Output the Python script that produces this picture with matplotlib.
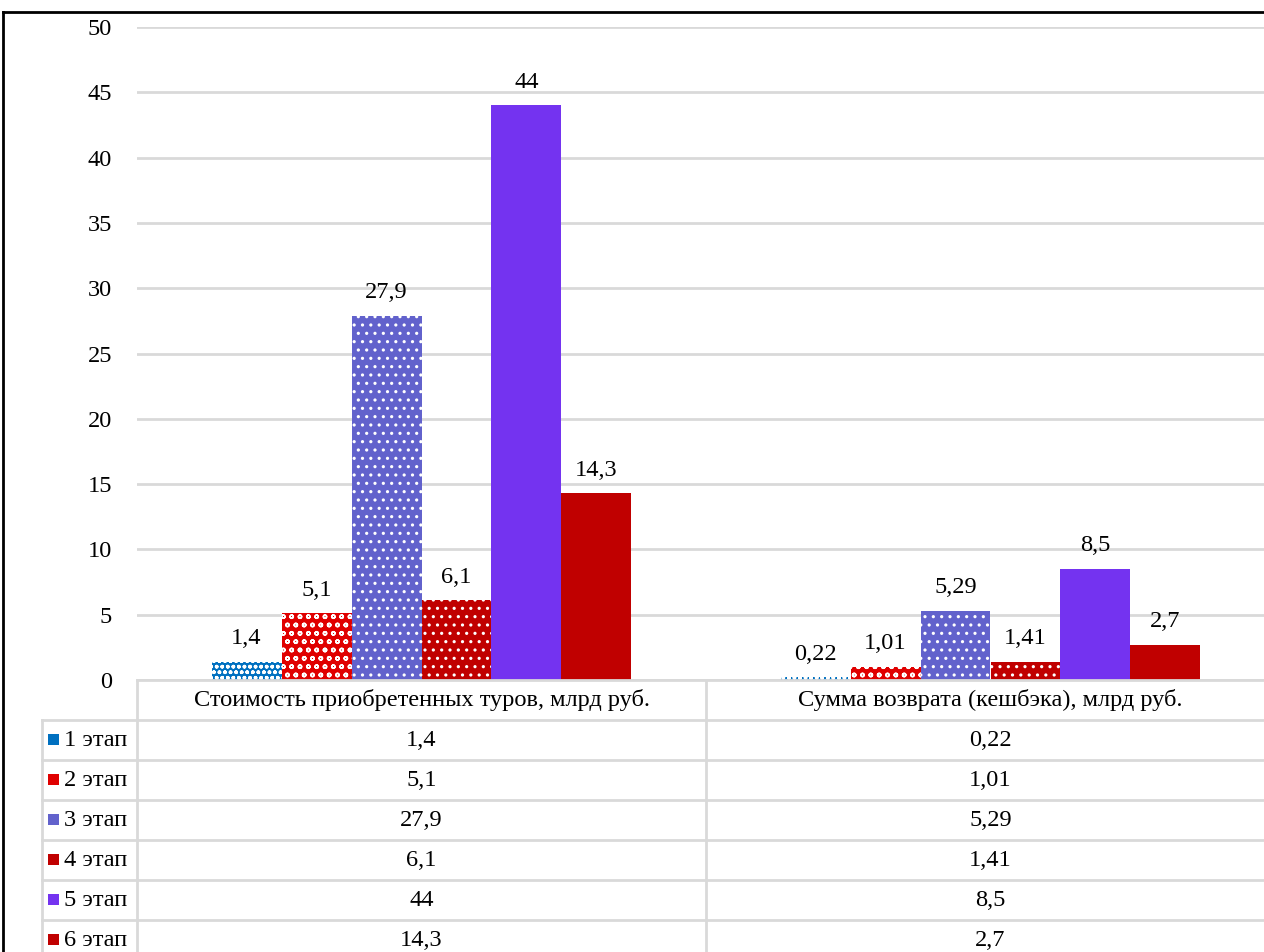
import matplotlib.pyplot as plt
from matplotlib.patches import Rectangle
import numpy as np

plt.rcParams['font.family'] = ['Liberation Serif', 'DejaVu Serif']
plt.rcParams['hatch.linewidth'] = 1.1

categories = ['Стоимость приобретенных туров, млрд руб.',
              'Сумма возврата (кешбэка), млрд руб.']
stages = ['1 этап', '2 этап', '3 этап', '4 этап', '5 этап', '6 этап']
values = [[1.4, 0.22],
          [5.1, 1.01],
          [27.9, 5.29],
          [6.1, 1.41],
          [44, 8.5],
          [14.3, 2.7]]
colors = ['#0070C0', '#E00000', '#6262CC', '#C00000', '#7433F0', '#C00000']
hatches = ['ooo', 'oo', '..', '..', None, None]
yticks = list(range(0, 51, 5))


def fmt(v):
    return ('%g' % v).replace('.', ',')


W, H = 1264, 952
fs = 17.6
fig = plt.figure(figsize=(W / 100, H / 100), dpi=100, facecolor='white')

# chart area (right edge runs past the picture, as in the original)
left, right, top, bottom = 137, 1275, 27, 680
ax = fig.add_axes([left / W, 1 - bottom / H, (right - left) / W, (bottom - top) / H])
ax.set_xlim(-0.5, 1.5)
ax.set_ylim(0, 50)
ax.set_yticks(yticks)
ax.set_xticks([])
ax.tick_params(axis='y', length=0, pad=18, labelsize=fs)
ax.grid(axis='y', color='#D9D9D9', linewidth=2)
ax.set_axisbelow(True)
for s in ax.spines.values():
    s.set_visible(False)

x = np.arange(len(categories))
bw = 0.123
for i, st in enumerate(stages):
    bars = ax.bar(x + (i - 2.5) * bw, values[i], bw, color=colors[i],
                  hatch=hatches[i], edgecolor='white' if hatches[i] else colors[i],
                  linewidth=0)
    ax.bar_label(bars, labels=[fmt(v) for v in values[i]], padding=9,
                 fontsize=fs)

# data table under the chart, drawn in pixel coordinates
tab = fig.add_axes([0, 0, 1, 1], facecolor='none')
tab.set_xlim(0, W)
tab.set_ylim(H, 0)
tab.axis('off')
grid_c = '#D9D9D9'
row_h = 40
row0 = 720
col_x = [42, 137, 706, 1275]
col_c = [(col_x[1] + col_x[2]) / 2, (col_x[2] + col_x[3]) / 2]

tab.plot([col_x[1], col_x[3]], [bottom, bottom], color=grid_c, lw=2)
for k in range(len(stages) + 1):
    y = row0 + k * row_h
    tab.plot([col_x[0], col_x[3]], [y, y], color=grid_c, lw=2)
tab.plot([col_x[0], col_x[0]], [row0, H + 10], color=grid_c, lw=2)
tab.plot([col_x[1], col_x[1]], [bottom, H + 10], color=grid_c, lw=2)
tab.plot([col_x[2], col_x[2]], [bottom, H + 10], color=grid_c, lw=2)

for j, c in enumerate(categories):
    tab.text(col_c[j], (bottom + row0) / 2, c, ha='center', va='center', fontsize=fs)

for i, st in enumerate(stages):
    yc = row0 + i * row_h + row_h / 2
    tab.add_patch(Rectangle((48, yc - 6), 11, 11, facecolor=colors[i],
                            edgecolor=colors[i], linewidth=0))
    tab.text(64, yc, st, ha='left', va='center', fontsize=fs)
    for j in range(len(categories)):
        tab.text(col_c[j], yc, fmt(values[i][j]), ha='center', va='center',
                 fontsize=fs)

# outer frame
tab.plot([3, 3], [12, H + 10], color='black', lw=2)
tab.plot([3, W + 10], [12, 12], color='black', lw=2)

fig.savefig('out.png', dpi=100, facecolor='white')
